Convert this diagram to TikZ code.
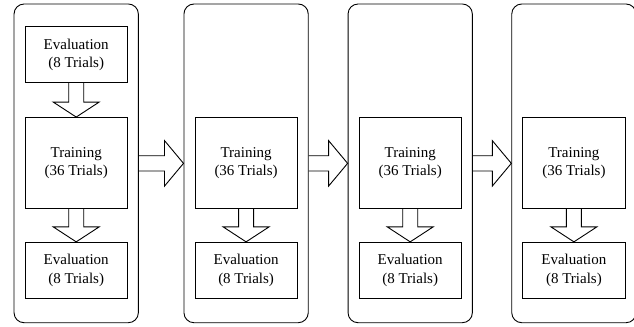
\documentclass[tikz,border=0pt]{standalone}
\usepackage{fontspec}
\setmainfont{Liberation Serif}
\usetikzlibrary{calc}
\begin{document}
\begin{tikzpicture}[x=1bp,y=-1bp,
  line width=0.9bp,
  panel/.style={draw, rounded corners=10bp, minimum width=124.3bp, minimum height=318.7bp, inner sep=0pt},
  box/.style={draw, minimum width=102.3bp, inner sep=0pt, align=center, font=\fontsize{15bp}{18.3bp}\selectfont},
  evalbox/.style={box, minimum height=56bp},
  trainbox/.style={box, minimum height=90.8bp},
  blockarrow/.style={draw, line join=miter}
]
\useasboundingbox (0,0) rectangle (634,326);
% panels
\node[panel] (p1) at (76.2,163.35) {};
\node[panel] (p2) at (246.1,163.35) {};
\node[panel] (p3) at (410.2,163.35) {};
\node[panel] (p4) at (573.9,163.35) {};
% boxes
\node[evalbox] (e0) at (p1.center |- 0,54.7) {Evaluation\\(8 Trials)};
\foreach \i in {1,2,3,4}{
  \node[trainbox] (t\i) at (p\i.center |- 0,162.9) {Training\\(36 Trials)};
  \node[evalbox] (e\i) at (p\i.center |- 0,270.3) {Evaluation\\(8 Trials)};
}
% down arrows
\newcommand{\downarrowblk}[2]{%
  \draw[blockarrow] ($(#1.south)+(-7.5,0)$) -- ($(#2.north)+(-7.5,-15)$) -- ($(#2.north)+(-23,-15)$) -- (#2.north) -- ($(#2.north)+(23,-15)$) -- ($(#2.north)+(7.5,-15)$) -- ($(#1.south)+(7.5,0)$);}
\downarrowblk{e0}{t1}
\downarrowblk{t1}{e1}
\downarrowblk{t2}{e2}
\downarrowblk{t3}{e3}
\downarrowblk{t4}{e4}
% right arrows
\newcommand{\rightarrowblk}[2]{%
  \draw[blockarrow] ($(#1.east)+(0,-7.6)$) -- ($(#2.west)+(-19,-7.6)$) -- ($(#2.west)+(-19,-22.75)$) -- (#2.west) -- ($(#2.west)+(-19,22.75)$) -- ($(#2.west)+(-19,7.6)$) -- ($(#1.east)+(0,7.6)$);}
\rightarrowblk{p1}{p2}
\rightarrowblk{p2}{p3}
\rightarrowblk{p3}{p4}
\end{tikzpicture}
\end{document}
